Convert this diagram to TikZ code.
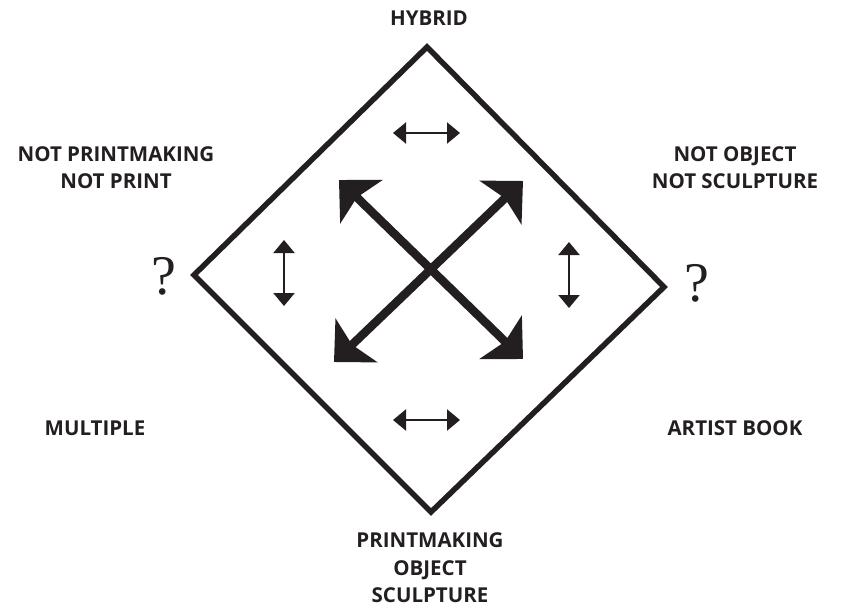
\documentclass[tikz,border=0pt]{standalone}
\usepackage{fontspec}
\setmainfont{Open Sans}
\newfontfamily\qfont{Liberation Serif}
\usetikzlibrary{arrows.meta}
\definecolor{ink}{RGB}{35,31,32}
\tikzset{
  lbl/.style={font=\bfseries\fontsize{20.5pt}{27.5pt}\selectfont, text=ink, align=center, inner sep=0pt, anchor=center},
  qmark/.style={font=\qfont\fontsize{56pt}{56pt}\selectfont, text=ink, inner sep=0pt, anchor=center},
  frame/.style={draw=ink, line width=5.5pt, line join=miter},
  bigarrow/.style={draw=ink, line width=8.5pt, {Stealth[length=31pt,width=60pt,inset=6pt]}-{Stealth[length=31pt,width=60pt,inset=6pt]}},
  smallarrow/.style={draw=ink, line width=2.3pt, {Triangle[length=13pt,width=21pt]}-{Triangle[length=13pt,width=21pt]}}
}
\begin{document}
\begin{tikzpicture}[x=1pt,y=-1pt]
\useasboundingbox (0,0) rectangle (846,607);
% diamond corners
\coordinate (top) at (427,47);
\coordinate (lft) at (194,275);
\coordinate (bot) at (431,512);
\coordinate (rgt) at (664,287);
\draw[frame] (top) -- (rgt) -- (bot) -- (lft) -- cycle;
% big arrows
\coordinate (ul) at (339,180);
\coordinate (lr) at (523,359);
\coordinate (ur) at (523,181);
\coordinate (ll) at (334,362);
\draw[bigarrow] (ul) -- (lr);
\draw[bigarrow] (ll) -- (ur);
% small arrows
\coordinate (t1) at (393,133); \coordinate (t2) at (460,133);
\coordinate (b1) at (393,420); \coordinate (b2) at (460,420);
\coordinate (l1) at (284,240); \coordinate (l2) at (284,306);
\coordinate (r1) at (569,242); \coordinate (r2) at (569,308);
\draw[smallarrow] (t1) -- (t2);
\draw[smallarrow] (b1) -- (b2);
\draw[smallarrow] (l1) -- (l2);
\draw[smallarrow] (r1) -- (r2);
% labels
\node[lbl] (hybrid) at (429,18) {HYBRID};
\node[lbl] (notpm) at (116,167.5) {NOT PRINTMAKING\\NOT PRINT};
\node[lbl] (notobj) at (735,167.5) {NOT OBJECT\\NOT SCULPTURE};
\node[lbl] (mult) at (95,428) {MULTIPLE};
\node[lbl] (artist) at (735,428) {ARTIST BOOK};
\node[lbl] (pm) at (430,568) {PRINTMAKING\\OBJECT\\SCULPTURE};
\node[qmark] (q1) at (164,276) {?};
\node[qmark] (q2) at (697,283) {?};
\end{tikzpicture}
\end{document}
